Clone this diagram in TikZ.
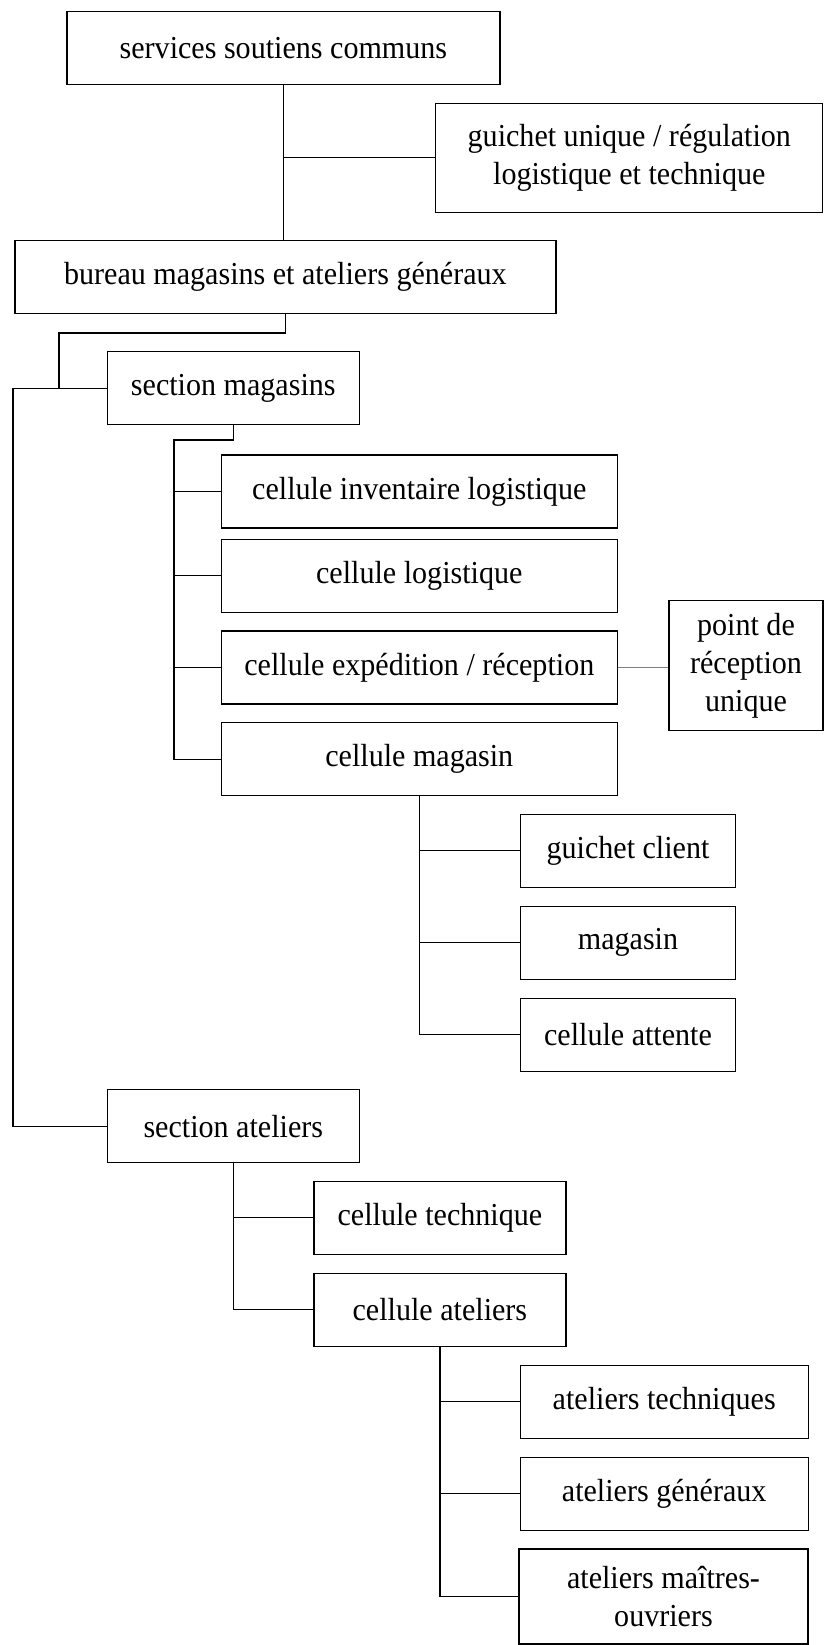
\documentclass[tikz,border=0pt]{standalone}
\usepackage{fontspec}
\setmainfont[FakeStretch=0.94]{Liberation Serif}
\usetikzlibrary{positioning}

\begin{document}
\begin{tikzpicture}[x=1pt, y=-1pt,
		box/.style={draw, line width=1.3pt, inner sep=0pt, minimum height=73pt, align=center, font=\fontsize{32}{38}\selectfont},
		link/.style={line width=1.3pt},
		graylink/.style={line width=1.3pt, draw=gray}]

				\useasboundingbox (0, 0) rectangle (824, 1645);

				\node[box, minimum width=433pt] (svc) at (283.4, 48) {services soutiens communs};
				\node[box, minimum width=387pt, minimum height=109pt] (gu) at (629.3, 157.8) {guichet unique / régulation\\logistique et technique};
				\node[box, minimum width=541pt] (bur) at (285.4, 277) {bureau magasins et ateliers généraux};

				\node[box, minimum width=252pt] (secm) at (233.3, 388.2) {section magasins};
				\node[box, minimum width=396pt] (inv) at (419.3, 491.5) {cellule inventaire logistique};
				\node[box, minimum width=396pt] (log) at (419.3, 575.8) {cellule logistique};
				\node[box, minimum width=396pt] (exp) at (419.3, 667.5) {cellule expédition / réception};
				\node[box, minimum width=396pt] (mag) at (419.3, 759.2) {cellule magasin};
				\node[box, minimum width=154pt, minimum height=130pt] (prc) at (746, 665.7) {point de\\réception\\unique};

				\node[box, minimum width=215pt] (gcl) at (628, 850.8) {guichet client};
				\node[box, minimum width=215pt] (mgs) at (628, 942.7) {magasin};
				\node[box, minimum width=215pt] (att) at (628, 1034.7) {cellule attente};

				\node[box, minimum width=252pt] (seca) at (233.3, 1126.2) {section ateliers};
				\node[box, minimum width=252pt] (tec) at (439.9, 1217.8) {cellule technique};
				\node[box, minimum width=252pt] (cat) at (439.9, 1309.8) {cellule ateliers};

				\node[box, minimum width=288pt] (ate) at (664.2, 1401.8) {ateliers techniques};
				\node[box, minimum width=288pt] (ag) at (664.2, 1493.7) {ateliers généraux};
				\node[box, minimum width=289pt, minimum height=95pt] (amo) at (663.5, 1596.5) {ateliers maîtres-\\ouvriers};

				\coordinate (bj) at (59, 333);
				\coordinate (spine) at (13, 388);
				\coordinate (mj) at (174, 440);

				\draw[link] (svc.south) -- (svc.south |- bur.north);
				\draw[link] (svc.south |- gu.west) -- (gu.west);
				\draw[link] (bur.south) |- (bj) -- (bj |- secm.west);
				\draw[link] (secm.west) -- (secm.west -| spine) |- (seca.west);

				\draw[link] (secm.south) |- (mj) |- (mag.west);
				\foreach \cell in {inv, log, exp}
					\draw[link] (\cell.west) -- (\cell.west -| mj);
				\draw[graylink] (exp.east) -- (exp.east -| prc.west);

				\draw[link] (mag.south) |- (att.west);
				\foreach \cell in {gcl, mgs}
					\draw[link] (\cell.west) -- (\cell.west -| mag.south);

				\draw[link] (seca.south) |- (cat.west);
				\draw[link] (tec.west) -- (tec.west -| seca.south);

				\draw[link] (cat.south) |- (amo.west);
				\foreach \cell in {ate, ag}
					\draw[link] (\cell.west) -- (\cell.west -| cat.south);

			\end{tikzpicture}
\end{document}
